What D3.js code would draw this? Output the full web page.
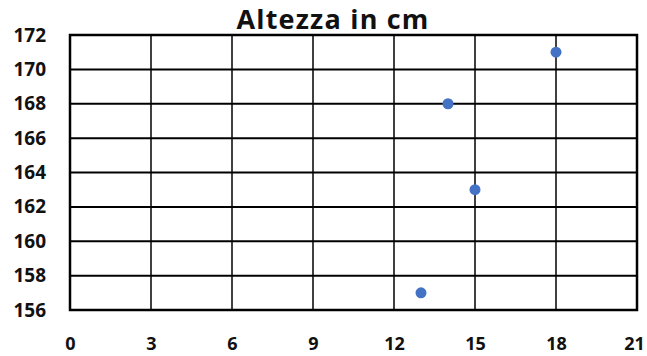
<!DOCTYPE html>
<html><head><meta charset="utf-8">
<script src="https://cdn.jsdelivr.net/npm/d3@7"></script>
<style>body{margin:0;background:#fff}svg{display:block}</style>
</head><body>
<script>
const ages = [13, 14, 15, 18];
const heights = [157, 168, 163, 171];
const xTicks = [0, 3, 6, 9, 12, 15, 18, 21];
const yTicks = [156, 158, 160, 162, 164, 166, 168, 170, 172];
const title = "Altezza in cm";

const W = 647, H = 356;
const m = {left: 70, right: 10, top: 35, bottom: 46};
const svg = d3.select("body").append("svg").attr("width", W).attr("height", H);
const x = d3.scaleLinear().domain([0, 21]).range([m.left, W - m.right]);
const y = d3.scaleLinear().domain([156, 172]).range([H - m.bottom, m.top]);
const font = "'Open Sans', Lato, sans-serif";

svg.append("g").selectAll("line").data(yTicks).join("line")
  .attr("x1", x(0)).attr("x2", x(21)).attr("y1", d => y(d)).attr("y2", d => y(d))
  .attr("stroke", "#000").attr("stroke-width", 2);
svg.append("g").selectAll("line").data(xTicks).join("line")
  .attr("y1", y(156)).attr("y2", y(172)).attr("x1", d => x(d)).attr("x2", d => x(d))
  .attr("stroke", "#000").attr("stroke-width", 1.5);
svg.append("rect").attr("x", x(0)).attr("y", y(172)).attr("width", x(21) - x(0)).attr("height", y(156) - y(172))
  .attr("fill", "none").attr("stroke", "#000").attr("stroke-width", 2.5);

const xa = svg.append("g").attr("transform", `translate(0,${y(156)})`)
  .call(d3.axisBottom(x).tickValues(xTicks).tickSize(0).tickPadding(27));
xa.select(".domain").remove();
xa.selectAll("text").attr("font-family", font).attr("font-weight", "bold").attr("font-size", 18).attr("fill", "#111");
xa.selectAll("text").filter(d => d === 21).attr("dx", -3);

const ya = svg.append("g").attr("transform", `translate(${x(0)},0)`)
  .call(d3.axisLeft(y).tickValues(yTicks).tickSize(0).tickPadding(24));
ya.select(".domain").remove();
ya.selectAll("text").attr("font-family", font).attr("font-weight", "bold").attr("font-size", 19).attr("fill", "#111");

svg.append("g").selectAll("circle").data(ages).join("circle")
  .attr("cx", d => x(d)).attr("cy", (d, i) => y(heights[i])).attr("r", 5.5)
  .attr("fill", "#4472C4");

svg.append("text").attr("x", 333).attr("y", 29).attr("text-anchor", "middle")
  .attr("font-family", font).attr("font-weight", "bold").attr("font-size", 27)
  .attr("letter-spacing", 1.2).attr("fill", "#111")
  .text(title);
</script>
</body></html>
